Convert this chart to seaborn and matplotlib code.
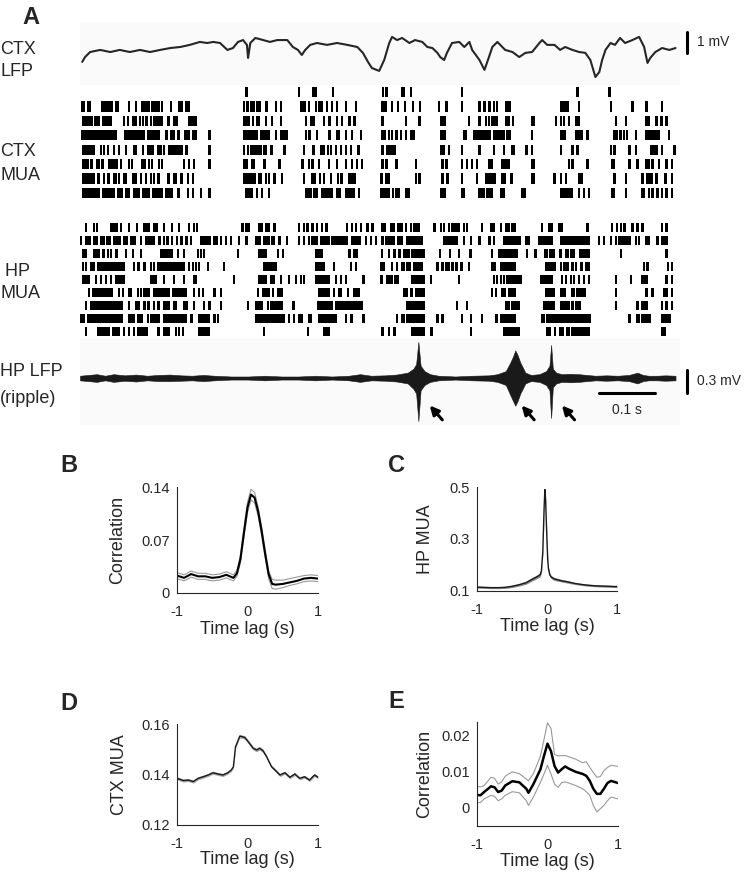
import matplotlib
matplotlib.use('Agg')
import matplotlib.pyplot as plt
import seaborn as sns

sns.set_style('white')
plt.rcParams['font.family'] = ['Liberation Sans', 'DejaVu Sans']

# ---------------- Panel A data (time in ms) ----------------
T_MAX = 1071
SPIKE_MS = 4

ctx_lfp_t = [4, 9, 18, 36, 54, 71, 89, 107, 125, 143, 161, 179, 196, 214, 227, 238, 250, 263, 273,
             282, 291, 298, 300, 304, 313, 327, 339, 352, 370, 380, 389, 396, 402, 411, 423, 441,
             459, 477, 495, 505, 514, 521, 534, 543, 552, 557, 566, 575, 588, 598, 611, 620, 629,
             638, 643, 650, 655, 664, 677, 686, 695, 700, 713, 722, 730, 736, 745, 759, 772, 784,
             795, 807, 820, 825, 834, 847, 857, 866, 879, 891, 902, 911, 920, 927, 932, 938, 947,
             955, 964, 973, 986, 998, 1007, 1013, 1018, 1027, 1039, 1052, 1063]
ctx_lfp_mv = [-0.33, -0.10, 0.14, 0.24, 0.14, 0.24, 0.14, 0.24, 0.14, 0.24, 0.33, 0.38, 0.48, 0.62,
              0.57, 0.62, 0.57, 0.24, 0.33, 0.62, 0.71, 0.48, -0.14, 0.57, 0.81, 0.71, 0.62, 0.71,
              0.71, 0.38, 0.24, 0.0, 0.24, 0.48, 0.57, 0.48, 0.57, 0.48, 0.38, 0.10, -0.33, -0.62,
              -0.76, -0.24, 0.57, 0.86, 0.71, 0.81, 0.57, 0.71, 0.62, 0.38, 0.33, 0.10, -0.10,
              -0.24, 0.10, 0.57, 0.62, 0.38, 0.62, 0.24, -0.24, -0.71, -0.10, 0.38, 0.62, 0.24,
              0.14, -0.10, 0.10, 0.14, 0.57, 0.71, 0.48, 0.48, 0.24, 0.38, 0.24, 0.14, 0.10, -0.24,
              -1.05, -0.81, -0.24, 0.24, 0.57, 0.48, 0.81, 0.57, 0.71, 0.86, 0.38, -0.38, -0.14,
              0.14, 0.33, 0.24, 0.33]

# spikes: single value = one spike, tuple = merged burst (start, end)
ctx_mua = [
    [295, 389, (414, 423), 450, 539, 545, (573, 580), 589, 680, 886, 943],
    [(1, 9), (13, 20), (37, 59), 62, 66, 86, 98, (109, 125), (127, 143), 145, 161, (175, 184),
     (188, 196), 291, 297, (303, 312), (314, 323), (330, 336), 348, 357, (392, 404), 407, 419,
     (425, 434), 439, 448, 457, 473, 491, (537, 548), 555, 566, 578, 593, 605, 639, 652, (680, 684),
     711, 720, 729, 737, 743, (759, 770), (857, 872), 889, 946, 984, (1009, 1014), 1037],
    [(4, 23), (25, 36), (39, 57), 77, 84, 93, (95, 102), 105, 111, (116, 121), 125, 130, 134, 138,
     (143, 148), (155, 161), (166, 175), (193, 209), (291, 304), 307, (314, 321), 330, 341, 357,
     402, (411, 420), 434, (443, 448), 457, 466, 479, 488, 538, 580, 604, (643, 654), 693,
     (711, 716), 723, 728, 733, 738, 743, (759, 768), 771, (805, 813), 848, 857, 862, 871,
     (884, 893), 955, 973, (1009, 1018), 1027, 1036, 1045],
    [(2, 66), (79, 116), (120, 143), (152, 157), (161, 170), (173, 179), (186, 197), (200, 209),
     229, (291, 318), (321, 339), 348, (357, 371), 402, (407, 413), 421, (443, 448), (457, 464),
     473, 484, 500, 538, 543, 550, 555, 563, 571, 580, (589, 598), (643, 654), (684, 691),
     (702, 734), (738, 759), (761, 770), (805, 809), (857, 868), (884, 898), 904, 952, 957, 963,
     969, 975, 991, (1009, 1036), 1050],
    [(4, 27), 36, 41, 48, (59, 62), 68, (80, 84), (95, 102), (111, 113), (120, 132), 138, 143, 148,
     (157, 184), 188, 229, 291, 298, 304, (309, 325), (327, 334), (339, 345), 363, 398, (414, 420),
     429, 434, 441, 446, 455, 464, 473, 482, 495, 538, (546, 564), (643, 652), 657, (680, 684),
     (711, 714), 737, (755, 759), 770, 773, 795, 805, 857, 877, 886, 946, (952, 957), 979, 991,
     (1018, 1032), 1037, 1059],
    [(4, 16), (18, 23), (29, 36), (38, 43), (50, 68), 71, 86, 91, (109, 118), 121, 127, 139, 145,
     184, 193, 202, 229, (291, 300), (305, 313), (327, 332), 354, 395, 407, 413, 425, 443, 457,
     473, 484, 493, 502, 538, 545, 563, (598, 600), 645, 652, 680, 689, 698, 707, (729, 738),
     (752, 768), (805, 813), 871, 877, 904, (948, 955), (979, 984), 993, 1009, 1014, (1020, 1023),
     1032, 1045, 1055],
    [(4, 27), (30, 36), 41, (48, 54), (59, 66), (68, 71), (77, 84), (93, 102), 107, (116, 120), 125,
     130, (138, 143), (155, 161), (166, 173), (179, 184), 191, 200, (291, 314), (318, 325), 330,
     336, 345, 359, 398, (413, 421), 427, 434, 446, 459, (464, 470), (479, 493), (536, 538), 545,
     (550, 554), 598, (604, 607), 645, 654, 680, 707, (723, 743), (752, 761), (768, 773),
     (805, 813), 845, 857, 866, (889, 898), 952, 973, 1002, (1011, 1023), 1027, 1043, 1055],
    [(4, 36), (39, 63), (66, 77), (80, 89), (95, 107), (111, 125), (129, 148), (152, 166),
     (173, 179), 191, 200, 214, 229, (295, 309), 314, 323, 336, (402, 414), (416, 425), (430, 452),
     (457, 466), (473, 491), 496, (536, 554), 557, 563, 568, (580, 589), (643, 654), 680, 684,
     (711, 723), (725, 738), (750, 759), (788, 796), (857, 880), 889, 898, 907, (948, 955), 973,
     (1002, 1009), 1014, 1020, 1029, 1037, 1045, 1055],
]

hp_mua = [
    [9, 23, 29, 54, 57, 61, 64, 71, 86, 100, 113, (118, 125), (130, 139), (148, 152), 162, 175, 193,
     202, 207, 288, 295, 300, (318, 327), (330, 339), 345, 389, 398, 404, 413, 421, 430, 438, 475,
     484, 491, 500, 511, 520, (537, 546), (554, 563), (565, 577), 580, 589, (595, 607), (630, 636),
     643, 648, 657, (663, 679), 684, 689, 716, (732, 741), 750, (759, 768), (770, 779), 823,
     (836, 845), 854, 859, 904, 948, 957, 964, 970, 984, 993, 1002, 1037, 1045],
    [0, (9, 20), (23, 32), (36, 45), (47, 55), (59, 73), (77, 86), (89, 100), 107, (116, 134),
     (139, 145), 148, 154, 162, 171, 179, 188, 196, (214, 234), (238, 246), 250, 259, 268, 282, 295,
     (313, 323), (327, 339), (341, 348), 354, 368, 389, 398, 407, (413, 425), (429, 446), (448, 479),
     (484, 502), 509, 518, 527, 538, (545, 563), (565, 577), (582, 613), (648, 675), 684, 696, 711,
     729, 737, (755, 787), 795, 800, (818, 845), (857, 911), 925, 934, 946, 955, (961, 984), 991,
     996, 1009, 1014, 1029, (1037, 1050)],
    [(4, 13), (23, 36), (39, 45), 48, 54, 63, 80, 93, 107, (143, 166), 173, 184, 209, 214, 220, 280,
     (318, 334), 352, 361, (420, 434), 479, (488, 496), 537, 550, (559, 564), (568, 573), (577, 589),
     (591, 616), 641, 659, 675, 695, (734, 738), (746, 782), 796, 811, (829, 836), (838, 848),
     (855, 861), (866, 873), (875, 884), (891, 911), 964, (1045, 1048)],
    [4, 9, (18, 27), (30, 80), 95, (102, 107), 113, 125, 130, (138, 188), 193, 200, 205, 211, 227,
     255, (327, 352), (420, 438), 452, 482, 491, (536, 545), 555, 564, (573, 580), (582, 591),
     (595, 613), 636, 645, 652, 657, 663, 670, 679, 693, (734, 743), 750, (752, 779), (830, 850),
     857, 863, 868, 877, 884, 893, 902, 907, 1005, 1011, 1047, 1055],
    [(4, 18), 27, 36, 45, 54, (63, 80), (125, 138), 148, 166, 184, (202, 209), 273, (318, 334),
     (339, 348), 357, 371, 384, 393, 398, (420, 446), 455, 464, 473, 504, 536, 546, 550, (554, 557),
     561, (566, 570), (591, 616), 625, 675, 737, 743, 750, 755, (761, 789), (821, 845), 859, 866,
     875, 880, 889, 898, 907, 955, 982, (1002, 1014), 1045, 1055],
    [14, (21, 59), 68, 75, (86, 93), 102, 107, (113, 125), (130, 161), (164, 191), 202, 211, 218,
     238, 250, 316, (325, 339), 343, (352, 363), (425, 446), 452, (461, 468), 477, (488, 500),
     (577, 586), (589, 595), (598, 616), 734, 741, (752, 761), (764, 779), (830, 848), (857, 868),
     (877, 884), (886, 904), 955, 1009, 1020, (1041, 1050), 1055],
    [9, (18, 77), 86, (98, 107), 113, (120, 125), 130, (138, 143), (148, 161), (166, 173),
     (184, 193), 202, 220, 229, 250, 298, (313, 327), 334, (339, 363), 379, (423, 452), (455, 505),
     (582, 616), 671, 689, (759, 768), (770, 786), (827, 848), (857, 875), 877, (884, 895), 955,
     993, (1002, 1014), 1037, (1045, 1050), 1055],
    [(0, 9), (13, 77), (86, 98), (102, 113), 120, (125, 143), (148, 191), (196, 202), (211, 232),
     238, 245, (313, 366), 371, 380, (389, 398), (407, 414), (425, 459), 473, (482, 488), 504, 564,
     (573, 580), (582, 616), (636, 639), 645, 680, 696, 716, (741, 746), (750, 779), (823, 830),
     (832, 912), 979, (993, 1000), (1002, 1020), (1037, 1055)],
    [9, (30, 54), (57, 71), 77, 86, 95, (102, 121), 138, (148, 161), 170, 175, 182, (211, 232), 327,
     405, (434, 446), 538, 550, (559, 564), (591, 616), (625, 630), 696, (755, 786), (832, 841),
     (846, 850), (855, 864), (868, 875), (877, 911), (1037, 1046)],
]

ripple_t = [0, 15, 30, 45, 60, 80, 100, 120, 140, 160, 180, 200, 220, 240, 270, 300, 330, 360, 390,
            420, 450, 480, 500, 520, 545, 565, 585, 595, 600, 604, 608, 615, 625, 640, 670, 700,
            730, 745, 760, 768, 773, 777, 781, 786, 795, 805, 820, 832, 838, 841, 844, 850, 860,
            875, 890, 905, 920, 940, 960, 980, 995, 1005, 1015, 1030, 1045, 1063]
ripple_hi = [0.03, 0.04, 0.05, 0.03, 0.05, 0.035, 0.045, 0.03, 0.04, 0.045, 0.035, 0.03, 0.04, 0.03,
             0.02, 0.02, 0.03, 0.02, 0.02, 0.03, 0.02, 0.03, 0.05, 0.03, 0.035, 0.045, 0.07, 0.12,
             0.18, 0.47, 0.16, 0.09, 0.05, 0.03, 0.02, 0.03, 0.035, 0.05, 0.09, 0.20, 0.28, 0.36,
             0.30, 0.20, 0.07, 0.04, 0.05, 0.09, 0.16, 0.43, 0.12, 0.07, 0.05, 0.055, 0.05, 0.04,
             0.03, 0.035, 0.03, 0.04, 0.07, 0.04, 0.03, 0.03, 0.035, 0.03]
ripple_lo = [-0.03, -0.04, -0.05, -0.03, -0.05, -0.035, -0.045, -0.03, -0.04, -0.04, -0.035, -0.03,
             -0.04, -0.03, -0.02, -0.02, -0.03, -0.02, -0.02, -0.03, -0.02, -0.03, -0.05, -0.03,
             -0.035, -0.045, -0.07, -0.14, -0.20, -0.56, -0.16, -0.09, -0.05, -0.03, -0.02, -0.03,
             -0.035, -0.05, -0.09, -0.22, -0.30, -0.36, -0.30, -0.20, -0.07, -0.04, -0.05, -0.09,
             -0.16, -0.52, -0.12, -0.07, -0.05, -0.055, -0.05, -0.04, -0.03, -0.035, -0.03, -0.04,
             -0.07, -0.04, -0.03, -0.03, -0.035, -0.03]
arrow_tips_ms = [621, 785, 857]

# ---------------- Panels B-E data (time lag in s) ----------------
lag_b = [-1, -0.9, -0.8, -0.7, -0.6, -0.5, -0.4, -0.3, -0.2, -0.15, -0.1, -0.05, 0, 0.05, 0.1,
         0.15, 0.2, 0.25, 0.3, 0.35, 0.4, 0.5, 0.6, 0.7, 0.8, 0.9, 1]
corr_b = [0.023, 0.020, 0.025, 0.022, 0.022, 0.020, 0.021, 0.024, 0.020, 0.026, 0.045, 0.080,
          0.113, 0.130, 0.126, 0.108, 0.082, 0.052, 0.025, 0.012, 0.011, 0.012, 0.014, 0.016,
          0.019, 0.020, 0.019]
corr_b_hi = [0.027, 0.024, 0.029, 0.026, 0.026, 0.024, 0.025, 0.028, 0.024, 0.030, 0.050, 0.086,
             0.120, 0.137, 0.133, 0.114, 0.088, 0.057, 0.029, 0.018, 0.017, 0.017, 0.019, 0.021,
             0.023, 0.024, 0.023]
corr_b_lo = [0.019, 0.016, 0.021, 0.018, 0.018, 0.016, 0.017, 0.020, 0.016, 0.022, 0.040, 0.074,
             0.106, 0.123, 0.119, 0.102, 0.076, 0.047, 0.019, 0.006, 0.005, 0.007, 0.010, 0.012,
             0.015, 0.016, 0.015]

lag_c = [-1, -0.9, -0.8, -0.7, -0.6, -0.5, -0.4, -0.3, -0.2, -0.15, -0.1, -0.08, -0.06, -0.05,
         -0.04, -0.03, -0.02, -0.01, 0, 0.01, 0.02, 0.04, 0.06, 0.1, 0.2, 0.3, 0.4, 0.5, 0.6, 0.7,
         0.8, 0.9, 1]
mua_c = [0.113, 0.112, 0.111, 0.111, 0.112, 0.116, 0.122, 0.130, 0.145, 0.152, 0.160, 0.175,
         0.250, 0.340, 0.430, 0.490, 0.450, 0.370, 0.290, 0.220, 0.185, 0.160, 0.152, 0.145, 0.138,
         0.133, 0.127, 0.123, 0.120, 0.118, 0.117, 0.116, 0.115]
sem_c = [0.004, 0.004, 0.004, 0.004, 0.004, 0.005, 0.005, 0.006, 0.007, 0.007, 0.008, 0.009,
         0.010, 0.010, 0.010, 0.010, 0.010, 0.010, 0.010, 0.009, 0.008, 0.007, 0.006, 0.006,
         0.005, 0.005, 0.004, 0.004, 0.004, 0.004, 0.004, 0.004, 0.004]

lag_d = [-1, -0.91, -0.84, -0.77, -0.70, -0.63, -0.56, -0.49, -0.42, -0.35, -0.28, -0.23, -0.20,
         -0.17, -0.11, -0.04, 0.01, 0.08, 0.13, 0.17, 0.22, 0.27, 0.34, 0.39, 0.46, 0.53, 0.60,
         0.67, 0.74, 0.81, 0.88, 0.95, 1.0]
mua_d = [0.1385, 0.1376, 0.1378, 0.1372, 0.1385, 0.1391, 0.1398, 0.1407, 0.1402, 0.1398, 0.1407,
         0.1418, 0.1431, 0.1510, 0.1552, 0.1547, 0.1530, 0.1504, 0.1497, 0.1504, 0.1494, 0.1471,
         0.1431, 0.1418, 0.1398, 0.1407, 0.1389, 0.1402, 0.1385, 0.1391, 0.1378, 0.1398, 0.1389]
sem_d = [0.0006] * 13 + [0.0007] * 8 + [0.0006] * 12

lag_e = [-1, -0.95, -0.9, -0.8, -0.75, -0.7, -0.65, -0.6, -0.5, -0.4, -0.3, -0.27, -0.2, -0.1,
         -0.05, 0, 0.05, 0.1, 0.15, 0.2, 0.25, 0.3, 0.4, 0.5, 0.55, 0.6, 0.65, 0.7, 0.75, 0.8,
         0.85, 0.9, 1.0]
corr_e = [0.0036, 0.0035, 0.0044, 0.0060, 0.0057, 0.0044, 0.0048, 0.0062, 0.0074, 0.0071, 0.0053,
          0.0042, 0.0066, 0.0107, 0.0144, 0.0178, 0.0157, 0.0116, 0.0098, 0.0107, 0.0115, 0.0109,
          0.0100, 0.0094, 0.0089, 0.0075, 0.0053, 0.0039, 0.0039, 0.0053, 0.0069, 0.0075, 0.0069]
corr_e_hi = [0.0060, 0.0058, 0.0062, 0.0085, 0.0082, 0.0066, 0.0072, 0.0088, 0.0100, 0.0095,
             0.0080, 0.0075, 0.0095, 0.0144, 0.0189, 0.0236, 0.0220, 0.0148, 0.0144, 0.0145,
             0.0145, 0.0142, 0.0135, 0.0125, 0.0128, 0.0112, 0.0098, 0.0085, 0.0087, 0.0103,
             0.0112, 0.0118, 0.0115]
corr_e_lo = [0.0015, 0.0015, 0.0025, 0.0035, 0.0032, 0.0020, 0.0025, 0.0035, 0.0045, 0.0042,
             0.0020, 0.0007, 0.0030, 0.0071, 0.0094, 0.0118, 0.0094, 0.0066, 0.0057, 0.0070,
             0.0072, 0.0069, 0.0062, 0.0053, 0.0045, 0.0035, 0.0007, -0.0011, -0.0002, 0.0007,
             0.0020, 0.0030, 0.0025]

# ---------------- Figure ----------------
W, H = 744, 877
fig = plt.figure(figsize=(W / 100, H / 100), dpi=100)


def px_axes(x0, y0, x1, y1):
    # axes from pixel box (top-left origin)
    return fig.add_axes([x0 / W, 1 - y1 / H, (x1 - x0) / W, (y1 - y0) / H])


def px_text(x, y, s, **kw):
    fig.text(x / W, 1 - y / H, s, **kw)


def bare(ax, face='white'):
    ax.set_xticks([])
    ax.set_yticks([])
    for sp in ax.spines.values():
        sp.set_visible(False)
    ax.set_facecolor(face)


def raster(ax, rows):
    for i, row in enumerate(rows):
        segs = []
        for s in row:
            if isinstance(s, tuple):
                segs.append((s[0], max(s[1] - s[0], SPIKE_MS)))
            else:
                segs.append((s, SPIKE_MS))
        ax.broken_barh(segs, (i - 0.36, 0.72), facecolor='black', edgecolor='none')
    ax.set_xlim(0, T_MAX)
    ax.set_ylim(len(rows) - 0.5, -0.5)
    bare(ax)


# CTX LFP
ax_lfp = px_axes(80, 22, 680, 85)
sns.lineplot(x=ctx_lfp_t, y=ctx_lfp_mv, color='0.15', lw=1.5, ax=ax_lfp, errorbar=None)
ax_lfp.set_xlim(0, T_MAX)
ax_lfp.set_ylim(-1.43, 1.57)
bare(ax_lfp, '#fafafa')
ax_lfp.plot([1084, 1084], [0.095, 1.095], color='k', lw=2.2, clip_on=False)
ax_lfp.text(1102, 0.6, '1 mV', fontsize=10, va='center', ha='left')

# rasters
ax_ctx = px_axes(80, 85, 680, 200)
raster(ax_ctx, ctx_mua)
ax_hp = px_axes(80, 221, 680, 338)
raster(ax_hp, hp_mua)

# HP ripple LFP
ax_rip = px_axes(80, 338, 680, 425)
ax_rip.fill_between(ripple_t, ripple_lo, ripple_hi, color='0.1', lw=0.4, edgecolor='0.1')
ax_rip.set_xlim(0, T_MAX)
ax_rip.set_ylim(-0.61, 0.52)
bare(ax_rip, '#fafafa')
ax_rip.plot([1084, 1084], [0.10, -0.20], color='k', lw=2.2, clip_on=False)
ax_rip.text(1102, -0.04, '0.3 mV', fontsize=10, va='center', ha='left')
ax_rip.plot([927, 1027], [-0.20, -0.20], color='k', lw=2.2)
ax_rip.text(977, -0.42, '0.1 s', fontsize=10, va='center', ha='center')
for tip in arrow_tips_ms:
    ax_rip.annotate('', xy=(tip, -0.33), xytext=(tip + 29, -0.57),
                    arrowprops=dict(arrowstyle='-|>', lw=2.2, color='k', mutation_scale=13),
                    annotation_clip=False)

# panel A labels
px_text(22, 17, 'A', fontsize=17, fontweight='bold', va='center')
for y, s in [(50, 'CTX'), (71, 'LFP'), (152, 'CTX'), (175, 'MUA'), (271, ' HP'), (293, 'MUA'),
             (372, 'HP LFP'), (398, '(ripple)')]:
    px_text(0, y, s, fontsize=13, va='center', ha='left')


# ---------------- Panels B-E ----------------
def corr_axes(ax, ylim, yticks, yticklabels, ylabel, ylab_x):
    ax.set_xlim(-1, 1)
    ax.set_ylim(*ylim)
    ax.set_xticks([-1, -0.5, 0, 0.5, 1])
    ax.set_xticklabels(['-1', '', '0', '', '1'])
    ax.set_yticks(yticks)
    ax.set_yticklabels(yticklabels)
    ax.tick_params(direction='in', length=3, width=0.8, labelsize=10.5, pad=5)
    ax.tick_params(axis='x', pad=8.5)
    sns.despine(ax=ax)
    for sp in ['left', 'bottom']:
        ax.spines[sp].set_linewidth(0.8)
        ax.spines[sp].set_color('0.15')
    ax.set_xlabel('Time lag (s)', fontsize=13)
    ax.set_ylabel(ylabel, fontsize=13)
    ax.xaxis.set_label_coords(0.5, -0.34)
    ax.xaxis.label.set_va('center')
    ax.yaxis.set_label_coords(ylab_x, 0.5)
    ax.yaxis.label.set_va('center')


ax_b = px_axes(177, 487, 318, 593)
sns.lineplot(x=lag_b, y=corr_b_hi, color='0.6', lw=0.8, ax=ax_b, errorbar=None)
sns.lineplot(x=lag_b, y=corr_b_lo, color='0.6', lw=0.8, ax=ax_b, errorbar=None)
sns.lineplot(x=lag_b, y=corr_b, color='black', lw=1.5, ax=ax_b, errorbar=None)
corr_axes(ax_b, (0, 0.14), [0, 0.07, 0.14], ['0', '0.07', '0.14'], 'Correlation', -0.42)

ax_c = px_axes(477, 487, 617, 591)
c_lo = [m - s for m, s in zip(mua_c, sem_c)]
c_hi = [m + s for m, s in zip(mua_c, sem_c)]
ax_c.fill_between(lag_c, c_lo, c_hi, color='0.55', lw=0)
sns.lineplot(x=lag_c, y=mua_c, color='0.1', lw=1.0, ax=ax_c, errorbar=None)
corr_axes(ax_c, (0.098, 0.5), [0.1, 0.3, 0.5], ['0.1', '0.3', '0.5'], 'HP MUA', -0.37)

ax_d = px_axes(177, 724, 318, 825)
d_lo = [m - s for m, s in zip(mua_d, sem_d)]
d_hi = [m + s for m, s in zip(mua_d, sem_d)]
ax_d.fill_between(lag_d, d_lo, d_hi, color='0.65', lw=0)
sns.lineplot(x=lag_d, y=mua_d, color='0.1', lw=1.0, ax=ax_d, errorbar=None)
corr_axes(ax_d, (0.12, 0.16), [0.12, 0.14, 0.16], ['0.12', '0.14', '0.16'], 'CTX MUA', -0.41)

ax_e = px_axes(477, 722, 618, 826)
sns.lineplot(x=lag_e, y=corr_e_hi, color='0.6', lw=0.8, ax=ax_e, errorbar=None)
sns.lineplot(x=lag_e, y=corr_e_lo, color='0.6', lw=0.8, ax=ax_e, errorbar=None)
sns.lineplot(x=lag_e, y=corr_e, color='black', lw=1.8, ax=ax_e, errorbar=None)
corr_axes(ax_e, (-0.005, 0.0238), [0, 0.01, 0.02], ['0', '0.01', '0.02'], 'Correlation', -0.37)

# panel letters
for x, y, s in [(60, 466, 'B'), (388, 466, 'C'), (60, 703, 'D'), (388, 701, 'E')]:
    px_text(x, y, s, fontsize=17, fontweight='bold', va='center')

fig.savefig('out.png', dpi=100)
